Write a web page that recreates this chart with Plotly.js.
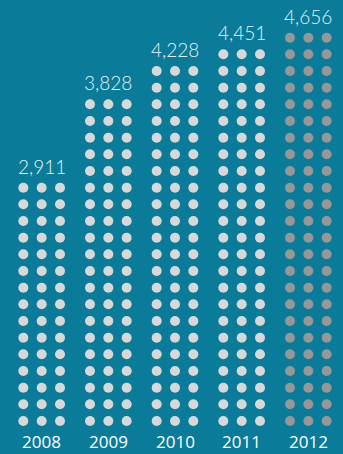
<!DOCTYPE html>
<html><head><meta charset="utf-8">
<script src="https://cdn.plot.ly/plotly-3.0.1.min.js"></script>
<style>html,body{margin:0;padding:0;background:#0a7b98;}#c{width:343px;height:454px;}</style>
</head><body><div id="c"></div>
<script>
const years = ['2008','2009','2010','2011','2012'];
const values = [2911, 3828, 4228, 4451, 4656];
const valueLabels = ['2,911','3,828','4,228','4,451','4,656'];
const dotRows = [15, 20, 22, 23, 24];   // rows of dots per year
const dotColors = ['#d8d8d8','#d8d8d8','#d8d8d8','#d8d8d8','#979797'];

const colOffsets = [-0.275, 0, 0.275];
const traces = years.map((yr, i) => {
  const xs = [], ys = [];
  for (let r = 0; r < dotRows[i]; r++) {
    for (const o of colOffsets) { xs.push(i + o); ys.push(r); }
  }
  return {type:'scatter', mode:'markers', x:xs, y:ys, name:yr,
    marker:{size:10, color:dotColors[i], line:{width:0}}, hoverinfo:'skip'};
});

const ann = [];
years.forEach((yr, i) => {
  ann.push({x:i, y:-1.22, xref:'x', yref:'y', text:yr, showarrow:false,
    font:{family:'Open Sans, sans-serif', size:17, color:'#ffffff'}});
  ann.push({x:i, y:dotRows[i] - 1 + 1.3, xref:'x', yref:'y', text:valueLabels[i], showarrow:false,
    font:{family:'Lato, sans-serif', size:19, color:'#e8f3f6', weight:300}});
});

Plotly.newPlot('c', traces, {
  width:343, height:454,
  margin:{l:0, r:0, t:0, b:0},
  paper_bgcolor:'#0a7b98', plot_bgcolor:'#0a7b98',
  showlegend:false,
  xaxis:{range:[-0.625, 4.52], visible:false, fixedrange:true},
  yaxis:{range:[-1.98, 25.26], visible:false, fixedrange:true},
  annotations:ann
}, {staticPlot:true, displayModeBar:false});
</script>
</body></html>
